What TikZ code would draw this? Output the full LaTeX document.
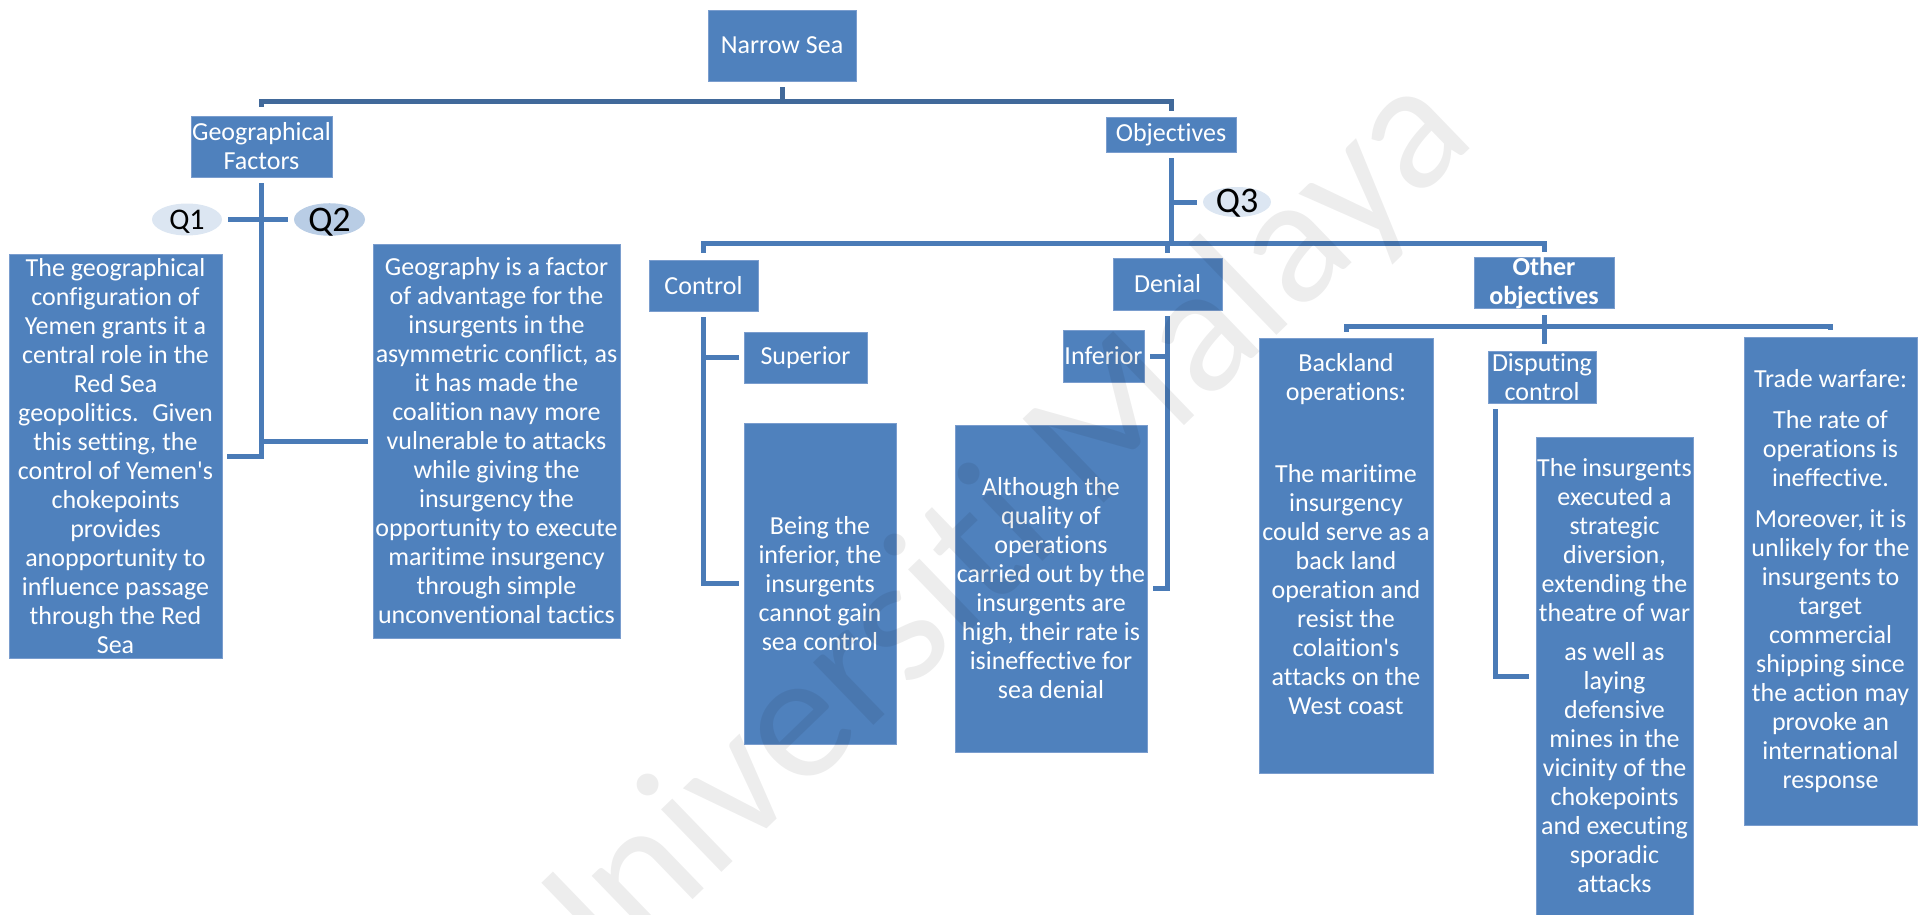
\documentclass[tikz,border=0pt]{standalone}
\usepackage{fontspec}
\setmainfont{Carlito}[Ligatures={TeX,NoCommon}]
\usepackage{tikz}
\usetikzlibrary{shapes.geometric}

\definecolor{boxblue}{HTML}{4F81BD}
\definecolor{boxedge}{HTML}{7A9DCE}
\definecolor{linkblue}{HTML}{4A7BB7}
\definecolor{topblue}{HTML}{41699A}
\definecolor{qlight}{HTML}{DCE6F2}
\definecolor{qdark}{HTML}{B9CDE5}

\begin{document}
\begin{tikzpicture}[x=1pt, y=-1pt,
  every box/.style={rectangle, fill=boxblue, draw=boxedge, line width=0.8pt,
    text=white, align=center, inner sep=0pt, font=\fontsize{26}{29}\selectfont},
  box/.style 2 args={every box, minimum width=#1, minimum height=#2},
  qlabel/.style={ellipse, inner sep=0pt, text=black, text depth=0pt},
  link/.style={draw=linkblue, line width=5pt},
  toplink/.style={draw=topblue, line width=5pt},
  watermark/.style={text=black, text opacity=0.07, font=\fontsize{182}{182}\selectfont}]

\useasboundingbox (0,0) rectangle (1919,915);

\node [box={148pt}{71pt}] (ns) at (782,45.5) {Narrow Sea};

\node [box={141pt}{61pt}] (geo) at (261.5,146.5) {Geographical\\Factors};
\node [box={130pt}{35pt}] (obj) at (1171,134.5) {Objectives};

\node [qlabel, fill=qlight, minimum width=70pt, minimum height=32pt, text height=19pt,
  font=\fontsize{30}{30}\selectfont] (qone) at (187,219.5) {Q1};
\node [qlabel, fill=qdark, minimum width=71pt, minimum height=32pt, text height=23pt,
  font=\fontsize{36}{36}\selectfont] (qtwo) at (329.5,219.5) {Q2};
\node [qlabel, fill=qlight, minimum width=68pt, minimum height=30pt, text height=21pt,
  font=\fontsize{36}{36}\selectfont] (qthree) at (1237,202) {Q3};

\node [box={213pt}{404pt}] (txtleft) at (115.5,456) {The geographical\\configuration of\\Yemen grants it a\\central role in the\\Red Sea\\geopolitics.~ Given\\this setting, the\\control of Yemen\textquotesingle s\\chokepoints\\provides\\anopportunity to\\influence passage\\through the Red\\Sea};
\node [box={247pt}{394pt}] (txtgeo) at (496.5,441) {Geography is a factor\\of advantage for the\\insurgents in the\\asymmetric conflict, as\\it has made the\\coalition navy more\\vulnerable to attacks\\while giving the\\insurgency the\\opportunity to execute\\maritime insurgency\\through simple\\unconventional tactics};

\node [box={109pt}{51pt}] (ctrl) at (703.5,285.5) {Control};
\node [box={123pt}{51pt}] (sup) at (805.5,357.5) {Superior};
\node [box={152pt}{321pt}] (being) at (820,583.5) {Being the\\inferior, the\\insurgents\\cannot gain\\sea control};

\node [box={109pt}{52pt}] (den) at (1167.5,284) {Denial};
\node [box={81pt}{52pt}] (inf) at (1103.5,356) {Inferior};
\node [box={192pt}{327pt}] (although) at (1051,588.5) {Although the\\quality of\\operations\\carried out by the\\insurgents are\\high, their rate is\\isineffective for\\sea denial};

\node [box={140pt}{50pt}, font=\fontsize{26}{29}\selectfont\bfseries] (other) at (1544,283) {Other\\objectives};
\node [every box, minimum width=174pt, anchor=north, text height=376pt,
  text depth=59pt] (back) at (1346,338) {Backland\\operations:\\[53pt]The maritime\\insurgency\\could serve as a\\back land\\operation and\\resist the\\colaition\textquotesingle s\\attacks on the\\West coast};
\node [box={108pt}{52pt}] (disp) at (1542,377) {Disputing\\control};
\node [box={157pt}{478pt}] (ins) at (1614.5,676) {The insurgents\\executed a\\strategic\\diversion,\\extending the\\theatre of war\\[10pt]as well as\\laying\\defensive\\mines in the\\vicinity of the\\chokepoints\\and executing\\sporadic\\attacks};
\node [box={173pt}{488pt}] (trade) at (1830.5,581) {Trade warfare:\\[12pt]The rate of\\operations is\\ineffective.\\[12pt]Moreover, it is\\unlikely for the\\insurgents to\\target\\commercial\\shipping since\\the action may\\provoke an\\international\\response};

\draw [toplink] ([yshift=-6pt]ns.south) -- ++(0,14) -| ([yshift=9pt]geo.north);
\draw [toplink] ([yshift=-6pt]ns.south) -- ++(0,14) -| ([yshift=6pt]obj.north);

\draw [link] ([yshift=-6pt]geo.south) |- ([xshift=5pt]txtleft.east);
\draw [link] (geo.south |- txtgeo.west) -- ([xshift=-5pt]txtgeo.west);
\draw [link] ([xshift=6pt]qone.east) -- ([xshift=-6pt]qtwo.west);

\foreach \c/\s in {ctrl/7pt, den/5pt, other/5pt}
  \draw [link] ([yshift=-6pt]obj.south) -- ++(0,85) -| ([yshift=\s]\c.north);
\draw [link] (obj.south |- qthree.west) -- ([xshift=-6pt]qthree.west);

\draw [link] ([yshift=-6pt]ctrl.south) |- ([xshift=-5pt]being.west);
\draw [link] (ctrl.south |- sup.west) -- ([xshift=-5pt]sup.west);

\draw [link] ([yshift=-6pt]den.south) |- ([xshift=6pt]although.east);
\draw [link] (den.south |- inf.east) -- ([xshift=6pt]inf.east);

\foreach \c/\s in {back/6pt, trade/7pt}
  \draw [link] ([yshift=-6pt]other.south) -- ++(0,11) -| ([yshift=\s]\c.north);
\draw [link] ([yshift=-6pt]other.south) -- ([yshift=7pt]other.south |- disp.north);
\draw [link] ([xshift=8pt,yshift=-6pt]disp.south west) |- ([xshift=-7pt]ins.west);

\node [watermark, rotate=44] (wm) at (985,550) {Universiti Malaya};

\end{tikzpicture}
\end{document}
